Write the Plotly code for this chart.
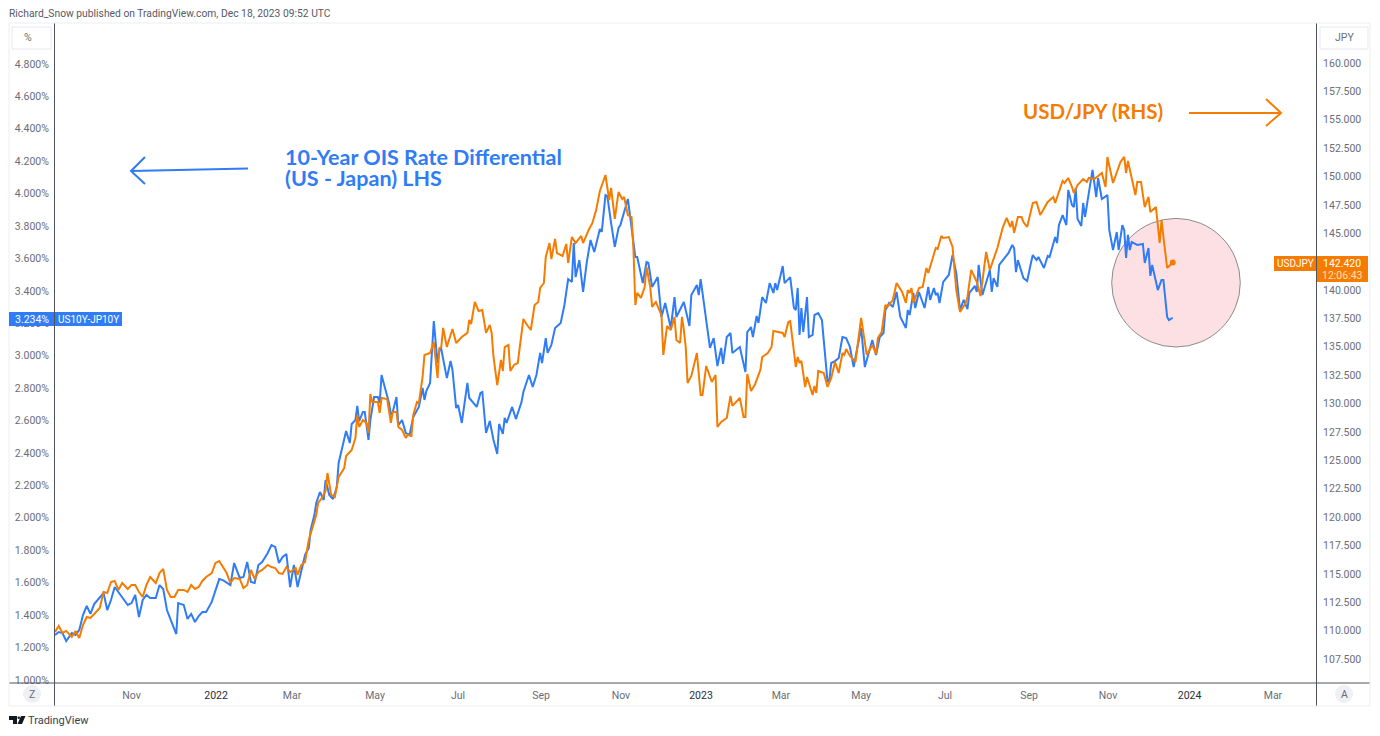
import plotly.graph_objects as go

# session index on TradingView's gap-free time scale
blue_s = [0,2,4,6,9,11,13,15,17,19,21,24,26,28,30,32,34,36,39,41,43,45,47,49,51,54,56,58,60,62,65,66,69,71,73,75,77,79,81,84,
86,88,90,92,94,96,99,101,103,105,107,109,111,114,116,118,120,122,124,126,128,130,132,134,136,137,139,140,142,144,145,147,149,151,152,154,156,158,159,161,
162,163,165,166,168,169,171,173,174,175,177,179,180,181,183,184,186,188,190,192,195,197,198,199,201,203,205,206,207,210,212,213,215,216,218,221,222,224,226,228,
229,231,233,235,237,238,240,241,242,245,247,250,251,254,256,258,260,261,263,264,266,268,271,273,275,277,278,279,281,283,285,287,289,292,293,295,296,298,300,302,
303,307,309,311,312,315,317,318,320,323,325,327,330,332,333,337,340,341,344,345,346,348,349,351,353,355,357,358,360,362,363,367,370,371,373,374,376,377,379,381,
383,385,386,387,390,391,394,396,397,398,399,400,401,403,404,406,407,409,411,413,414,415,416,418,420,422,424,426,428,432,434,438,440,442,444,445,447,449,451,453,
456,457,458,460,461,463,466,468,469,471,472,473,474,476,479,481,483,485,487,489,490,493,494,495,497,501,502,503,505,506,510,511,513,514,515,516,519,521,523,524,
526,527,530,532,533,536,537,538,540,542,543,545,546,547,548,550,551,552,556,557,558,559,561,564,565,567,569,570,572,573,574,575,576,577,580,583,584,586,587,588,
591,593,594,596,597,599]
blue_v = [1.277,1.295,1.289,1.240,1.289,1.277,1.308,1.400,1.456,1.407,1.468,1.505,1.536,1.431,1.493,1.573,1.542,1.511,1.462,1.474,1.524,1.388,1.493,1.524,1.505,1.505,1.585,1.561,1.431,1.370,1.283,1.474,1.462,1.376,1.407,1.357,1.394,1.419,1.419,1.481,
1.555,1.622,1.616,1.598,1.585,1.721,1.629,1.635,1.727,1.604,1.598,1.709,1.727,1.783,1.832,1.820,1.721,1.758,1.777,1.573,1.709,1.573,1.666,1.771,1.814,1.925,2.017,2.091,2.159,2.110,2.233,2.141,2.116,2.190,2.338,2.431,2.535,2.461,2.579,2.603,
2.690,2.597,2.653,2.653,2.480,2.603,2.745,2.745,2.708,2.881,2.788,2.708,2.634,2.653,2.745,2.572,2.603,2.523,2.511,2.622,2.684,2.801,2.727,2.782,2.832,3.214,2.955,3.035,3.041,2.862,2.967,2.912,2.677,2.696,2.585,2.832,2.739,2.708,2.684,2.770,
2.776,2.523,2.597,2.480,2.394,2.579,2.517,2.616,2.585,2.684,2.609,2.714,2.776,2.881,2.807,2.881,3.017,2.955,3.109,3.017,3.066,3.171,3.202,3.313,3.473,3.455,3.695,3.485,3.590,3.393,3.578,3.714,3.640,3.782,3.763,3.991,3.985,3.819,3.671,3.788,
3.806,3.967,3.794,3.609,3.609,3.448,3.578,3.572,3.424,3.485,3.239,3.325,3.171,3.362,3.239,3.331,3.183,3.374,3.436,3.374,3.473,3.294,3.220,3.048,3.109,2.936,3.048,2.949,3.115,3.140,3.017,3.054,2.899,3.146,3.177,3.115,3.245,3.202,3.362,3.325,
3.448,3.387,3.448,3.405,3.553,3.448,3.485,3.294,3.282,3.418,3.128,3.294,3.146,3.362,3.115,3.128,3.251,3.263,3.220,2.992,2.838,2.850,2.955,2.967,2.986,3.115,3.109,3.054,2.930,3.171,2.930,3.097,3.004,3.115,3.140,3.282,3.325,3.300,3.393,3.239,
3.171,3.282,3.251,3.387,3.294,3.393,3.294,3.424,3.344,3.418,3.374,3.387,3.325,3.455,3.498,3.621,3.510,3.282,3.344,3.288,3.387,3.430,3.393,3.560,3.374,3.529,3.393,3.479,3.424,3.560,3.615,3.634,3.683,3.664,3.516,3.590,3.479,3.461,3.572,3.621,
3.590,3.609,3.541,3.615,3.609,3.732,3.695,3.806,3.868,3.806,4.022,3.930,3.917,4.035,3.843,3.800,3.942,3.856,4.146,4.071,3.979,4.096,3.967,3.991,3.775,3.652,3.763,3.652,3.806,3.775,3.603,3.745,3.652,3.701,3.683,3.689,3.572,3.664,3.492,3.560,
3.405,3.467,3.467,3.239,3.220,3.234]

orange_s = [0,2,4,6,9,11,13,15,17,19,21,24,26,28,30,32,34,36,39,41,43,45,47,49,51,54,56,58,60,62,64,66,69,71,73,75,77,79,81,84,
86,88,90,92,94,96,99,101,103,105,107,109,111,114,116,118,120,122,124,126,129,130,132,134,136,138,140,141,143,145,146,148,150,152,155,156,159,161,162,163,
165,167,168,169,170,173,174,175,178,180,181,183,184,186,188,189,191,192,194,195,197,198,201,203,205,206,207,208,210,213,215,218,221,222,223,225,227,229,231,233,
234,235,237,239,240,241,243,244,246,248,249,251,253,255,257,259,260,262,263,265,266,268,269,272,274,275,277,279,282,283,286,288,290,292,295,297,298,300,302,304,
305,307,309,310,311,312,314,316,317,319,320,322,325,326,328,330,332,333,335,336,337,338,339,341,344,346,347,349,352,354,355,357,360,362,363,365,367,369,370,371,
373,375,378,379,382,384,385,390,391,393,394,397,398,399,400,402,403,406,407,408,409,412,414,416,418,420,422,423,424,426,429,432,435,438,440,441,443,445,446,449,
451,454,456,457,458,459,460,463,465,467,468,472,473,475,476,479,481,483,485,488,489,491,494,496,499,501,505,508,510,512,513,514,516,518,519,521,524,526,528,532,
535,536,540,541,543,545,546,548,551,553,554,557,561,563,564,567,571,573,574,575,579,580,582,584,586,587,590,592,593,594,596,599]
orange_v = [109.88,110.40,109.79,109.97,109.44,109.97,109.35,110.49,111.20,111.11,111.46,111.99,113.40,113.31,114.28,114.37,113.58,114.19,113.67,114.02,114.02,113.40,112.96,114.02,114.72,114.19,115.07,115.43,113.58,112.96,112.96,113.58,113.58,113.40,114.02,113.67,113.84,114.37,114.72,115.07,
115.96,116.13,115.60,115.07,114.19,114.63,114.55,113.75,114.02,115.34,114.55,115.16,115.34,115.78,115.60,115.51,115.07,114.99,115.60,115.16,115.51,114.90,115.78,116.04,117.98,119.04,120.18,121.24,121.68,122.30,123.88,121.95,121.77,123.53,124.32,125.38,125.91,126.97,128.99,127.94,
128.55,128.29,127.41,130.84,130.14,130.14,129.17,130.49,130.40,128.29,129.26,129.26,127.94,127.67,126.97,127.23,127.14,128.99,130.14,130.05,132.34,134.28,134.45,135.42,132.25,134.89,134.98,136.66,134.98,136.57,135.33,135.86,136.22,137.36,137.01,138.95,138.15,138.24,136.22,136.92,
136.22,134.10,131.63,133.84,132.87,134.98,135.16,132.87,133.40,133.57,134.98,137.45,136.92,136.48,138.68,138.95,140.18,140.62,142.91,144.14,142.73,144.50,143.26,143.00,144.06,142.38,144.67,144.14,144.76,144.14,145.29,145.91,147.05,148.72,150.13,147.93,148.99,146.26,148.64,148.02,
148.20,146.61,146.43,143.53,138.68,139.74,139.30,140.27,142.03,140.27,138.51,138.95,137.80,134.28,136.83,136.48,137.63,135.60,135.33,137.63,136.48,134.98,131.81,132.43,134.45,130.75,130.75,133.31,131.90,132.51,127.94,128.38,128.73,130.67,129.79,130.14,130.49,128.82,128.82,132.60,
131.11,131.63,132.96,134.10,134.45,134.98,136.39,136.22,135.86,137.18,137.27,133.22,134.10,133.57,133.75,131.46,132.34,130.75,131.55,130.93,132.87,132.69,131.46,132.25,133.66,132.69,134.45,134.28,134.81,134.19,133.66,137.54,134.28,135.16,134.37,135.78,136.30,138.68,138.51,139.12,
140.62,139.83,138.86,140.00,139.74,140.18,138.86,140.18,140.27,141.94,141.50,143.70,143.62,144.76,144.58,144.67,143.79,140.00,138.07,138.86,139.39,141.77,140.71,139.47,143.35,141.77,143.70,145.55,146.35,145.55,146.08,145.03,146.43,146.43,145.99,145.55,147.67,147.76,146.61,147.76,
148.20,147.67,149.61,149.43,149.87,149.08,148.55,149.25,149.78,149.52,149.87,149.78,150.31,149.08,151.72,149.43,151.28,151.72,150.31,151.37,148.37,149.52,149.52,147.31,148.20,146.87,147.31,144.14,146.17,144.67,141.94,142.42]

month_ticks = [41, 86.3, 127, 171.5, 216, 260.5, 303.3, 346.2, 389, 432, 477, 522, 564.3, 608, 652.7]
month_labels = ["Nov", "2022", "Mar", "May", "Jul", "Sep", "Nov", "2023", "Mar", "May", "Jul", "Sep", "Nov", "2024", "Mar"]
left_ticks = [1.0,1.2,1.4,1.6,1.8,2.0,2.2,2.4,2.6,2.8,3.0,3.2,3.4,3.6,3.8,4.0,4.2,4.4,4.6,4.8]
right_ticks = [107.5,110,112.5,115,117.5,120,122.5,125,127.5,130,132.5,135,137.5,140,142.5,145,147.5,150,152.5,155,157.5,160]

BLUE = "#2f7cf6"
ORANGE = "#f57c00"
GREY = "#6a6d78"
FONT = "Roboto"
PL, PR, PT, PB = 55, 1316, 23, 683


def X(p):
    return (p - PL) / (PR - PL)


def Y(p):
    return (PB - p) / (PB - PT)


def path(points):
    return "M " + " L ".join(f"{X(a):.5f},{Y(b):.5f}" for a, b in points)


fig = go.Figure()
fig.add_trace(go.Scatter(x=blue_s, y=blue_v, mode="lines", line=dict(color=BLUE, width=2), yaxis="y", showlegend=False))
fig.add_trace(go.Scatter(x=orange_s, y=orange_v, mode="lines", line=dict(color=ORANGE, width=2), yaxis="y2", showlegend=False))
fig.add_trace(go.Scatter(x=orange_s[-1:], y=orange_v[-1:], mode="markers", marker=dict(color=ORANGE, size=6), yaxis="y2", showlegend=False))

shapes = []


def sh(**k):
    shapes.append(dict(xref="paper", yref="paper", **k))


def box(x0, y0, x1, y1, fill, line=None, layer="above"):
    sh(type="rect", x0=X(x0), x1=X(x1), y0=Y(y1), y1=Y(y0), fillcolor=fill,
       line=dict(color=line or fill, width=1 if line else 0), layer=layer)


# pink circle behind lines
sh(type="circle", x0=X(1111.7), x1=X(1240.3), y0=Y(347), y1=Y(218.4), fillcolor="#fde0e4",
   line=dict(color="#8b8b8b", width=1), layer="below")
# mask under the time axis in the price column only, then frame
box(10, 684, 54, 705, "#ffffff")
sh(type="line", x0=X(9), x1=X(1370), y0=Y(683), y1=Y(683), line=dict(color="#50535e", width=1))
sh(type="line", x0=X(54.5), x1=X(54.5), y0=Y(683), y1=Y(706), line=dict(color="#50535e", width=1))
sh(type="line", x0=X(1316.5), x1=X(1316.5), y0=Y(683), y1=Y(706), line=dict(color="#50535e", width=1))
sh(type="rect", x0=X(9), x1=X(1370), y0=Y(706), y1=Y(23), line=dict(color="#eceef2", width=1))
# arrows
sh(type="path", path=path([(248, 168.5), (131, 171)]), line=dict(color=BLUE, width=2))
sh(type="path", path=path([(145, 157), (131, 171), (145, 184)]), line=dict(color=BLUE, width=2))
sh(type="path", path=path([(1189, 113), (1281, 113)]), line=dict(color=ORANGE, width=2))
sh(type="path", path=path([(1266, 99), (1281, 113), (1266, 126)]), line=dict(color=ORANGE, width=2))
# unit buttons
for x0, x1 in [(12, 51), (1320, 1368)]:
    sh(type="rect", x0=X(x0), x1=X(x1), y0=Y(49), y1=Y(27), fillcolor="#ffffff", line=dict(color="#e6e8ee", width=1))
# auto / log buttons
for cx in [32, 1344]:
    sh(type="circle", x0=X(cx - 9), x1=X(cx + 9), y0=Y(703), y1=Y(685), fillcolor="#eef0f4", line=dict(width=0))
# price-label badges
box(9, 312, 54, 326, BLUE)
box(55, 312, 122, 326, BLUE)
box(1274, 256, 1316, 271, ORANGE)
box(1317, 256, 1368, 282, ORANGE)
# TradingView logo
sh(type="path", path=path([(9, 716), (17, 716), (17, 724), (13, 724), (13, 720), (9, 720)]) + " Z",
   fillcolor="#131722", line=dict(width=0))
sh(type="circle", x0=X(17.5), x1=X(20), y0=Y(719), y1=Y(716.5), fillcolor="#131722", line=dict(width=0))
sh(type="path", path=path([(21, 716), (25.5, 716), (22, 724), (17.5, 724)]) + " Z",
   fillcolor="#131722", line=dict(width=0))

notes = []


def text(x, y, s, size=11, color=GREY, anchor="left", family=FONT):
    notes.append(dict(xref="paper", yref="paper", x=X(x), y=Y(y), text=s, showarrow=False, xanchor=anchor,
                      yanchor="middle", align="left", font=dict(size=size, color=color, family=family)))


text(7, 13, "Richard_Snow published on TradingView.com, Dec 18, 2023 09:52 UTC", 10.3, "#555a66")
text(22, 38, "%", 10.5)
text(1344, 38, "JPY", 10.5, anchor="center")
text(32, 694, "Z", 10.5, anchor="center")
text(1344, 694, "A", 10.5, anchor="center")
text(283, 157, "<b>10-Year OIS Rate Differential</b>", 21.5, BLUE, family="Lato")
text(283, 178, "<b>(US - Japan) LHS</b>", 21.5, BLUE, family="Lato")
text(1021, 111, "<b>USD/JPY (RHS)</b>", 20.5, ORANGE, family="Lato")
text(31.5, 319, "3.234%", 10.5, "#ffffff", "center")
text(88.5, 319, "US10Y-JP10Y", 10, "#ffffff", "center")
text(1295, 263.5, "USDJPY", 10, "#ffffff", "center")
text(1342, 263, "142.420", 10.5, "#ffffff", "center")
text(1342, 275, "12:06:43", 10.5, "#ffe0b8", "center")
text(26, 720.5, "TradingView", 11, "#3a3e4a")

xlabels = [f'<span style="color:#2a2e39">{m}</span>' if m.isdigit() else m for m in month_labels]

fig.update_layout(
    width=1380, height=736, autosize=False,
    margin=dict(l=PL, r=1380 - PR, t=PT, b=736 - PB, pad=0),
    paper_bgcolor="#ffffff", plot_bgcolor="#ffffff",
    font=dict(family=FONT, size=10.5, color=GREY),
    showlegend=False, shapes=shapes, annotations=notes,
    xaxis=dict(range=[0, (PR - PL) / 1.866], tickmode="array", tickvals=month_ticks, ticktext=xlabels,
               showgrid=False, zeroline=False, showline=False, ticks="", ticklabelstandoff=4,
               tickfont=dict(size=10.5, color=GREY, family=FONT)),
    yaxis=dict(range=[(842 - PB) / 162.1, (842 - PT) / 162.1], tickmode="array", tickvals=left_ticks,
               ticktext=[f"{v:.3f}%" for v in left_ticks], showgrid=False, zeroline=False, showline=True,
               linecolor="#50535e", linewidth=1, ticks="", ticklabelstandoff=3,
               tickfont=dict(size=10.5, color=GREY, family=FONT)),
    yaxis2=dict(range=[(1879.3 - PB) / 11.352, (1879.3 - PT) / 11.352], overlaying="y", side="right",
                tickmode="array", tickvals=right_ticks, ticktext=[f"{v:.3f}" for v in right_ticks],
                showgrid=False, zeroline=False, showline=True, linecolor="#50535e", linewidth=1, ticks="",
                ticklabelstandoff=4, tickfont=dict(size=10.5, color=GREY, family=FONT)),
)

assert len(blue_s) == len(blue_v), (len(blue_s), len(blue_v))
assert len(orange_s) == len(orange_v), (len(orange_s), len(orange_v))

fig.write_html("out.html", config=dict(displayModeBar=False),
               post_script="document.body.style.margin='0';document.body.style.overflow='hidden';")
